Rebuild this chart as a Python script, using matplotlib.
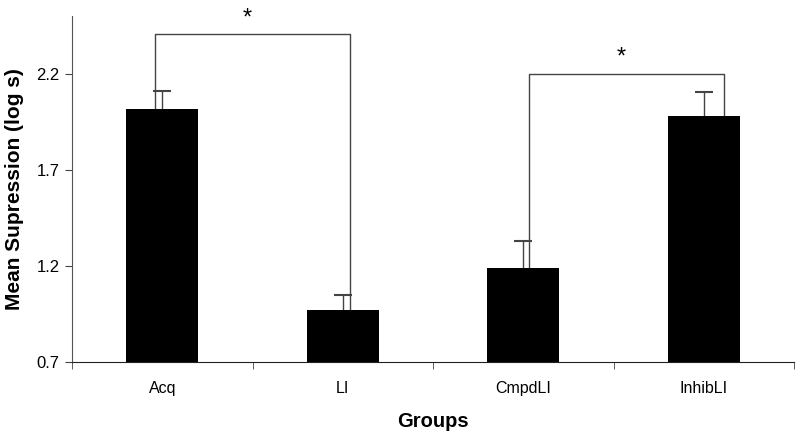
import matplotlib
matplotlib.use("Agg")
import matplotlib.pyplot as plt

groups = ["Acq", "LI", "CmpdLI", "InhibLI"]
means = [2.016, 0.968, 1.189, 1.978]
errors = [0.092, 0.083, 0.142, 0.128]
yticks = [0.7, 1.2, 1.7, 2.2]

plt.rcParams['font.family'] = ['Liberation Sans', 'DejaVu Sans']

fig = plt.figure(figsize=(8, 4.38), dpi=100)
ax = fig.add_axes([0.09, 0.1735, 0.9025, 0.79])

x = list(range(len(groups)))
ax.bar(x, [m - 0.7 for m in means], bottom=0.7, width=0.4, color='black', edgecolor='none', zorder=2)
# lower half hidden behind the bars
ax.errorbar(x, means, yerr=[errors, errors], fmt='none', ecolor='#444444',
            elinewidth=1.0, capsize=6.5, capthick=1.5, zorder=1)

# significance brackets
def bracket(x1, x2, y1, y2, top):
    ax.plot([x1, x1, x2, x2], [y1, top, top, y2], color='#444444', lw=1.0, zorder=1)
    ax.text((x1 + x2) / 2 - 0.03, top + 0.025, '*', ha='center', va='bottom', fontsize=17)

bracket(-0.04, 1.04, means[0], means[1], 2.407)
bracket(2.03, 3.11, means[2], means[3], 2.2)

ax.set_xlim(-0.5, 3.5)
ax.set_ylim(0.7, 2.5)
ax.set_yticks(yticks)
ax.set_yticklabels([f"{v:.1f}" for v in yticks], fontsize=12)
ax.set_xticks(x)
ax.set_xticklabels(groups, fontsize=11.5)
ax.set_xticks([-0.5, 0.5, 1.5, 2.5, 3.5], minor=True)
ax.tick_params(axis='x', which='major', length=0, pad=14)
ax.tick_params(axis='x', which='minor', length=5, color='#444444', direction='out')
ax.tick_params(axis='y', length=5, color='#444444', direction='out', pad=4)

for s in ['top', 'right']:
    ax.spines[s].set_visible(False)
ax.spines['left'].set_color('#555555')
ax.spines['bottom'].set_color('#222222')

ax.set_ylabel('Mean Supression (log s)', fontsize=15, fontweight='bold')
ax.yaxis.set_label_coords(-0.066, 0.5)
ax.set_xlabel('Groups', fontsize=14.5, fontweight='bold', labelpad=11)

fig.savefig('out.png', dpi=100)
